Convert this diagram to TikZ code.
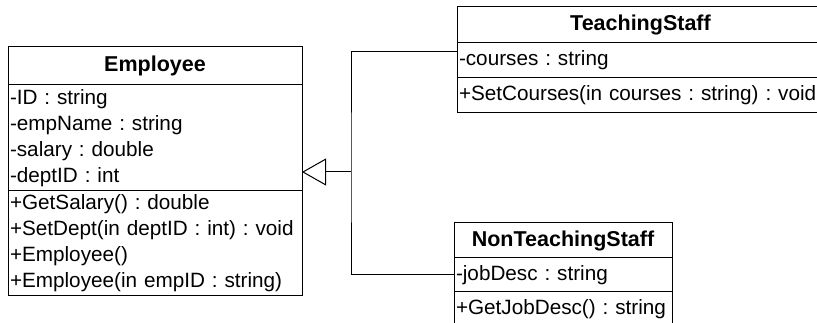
\documentclass[tikz,border=0pt]{standalone}
\usepackage{fontspec}
\setmainfont{Liberation Sans}
\usetikzlibrary{positioning,arrows.meta}

\begin{document}
\frenchspacing
\begin{tikzpicture}[x=1pt, y=1pt, line width=1pt,
	classbox/.style={draw, outer sep=0pt, inner xsep=2pt, inner ysep=0pt,
		text width=#1, align=left, font=\fontsize{20.7}{26}\selectfont\frenchspacing},
	classhead/.style={classbox=#1, align=center,
		font=\fontsize{21.5}{26}\selectfont\bfseries}]
	\path[use as bounding box, clip] (0,0) rectangle (817,-323);

	\node[classhead=290pt, minimum height=38pt, anchor=north west] (emp) at (8,-47) {Employee};
	\node[classbox=290pt, minimum height=106pt, below=0pt of emp] (emp-attr)
	{-ID : string\\-empName : string\\-salary : double\\-deptID : int};
	\node[classbox=290pt, minimum height=105pt, below=0pt of emp-attr] (emp-ops)
	{+GetSalary() : double\\+SetDept(in deptID : int) : void\\+Employee()\\+Employee(in empID : string)};

	\node[classhead=363pt, minimum height=36pt, anchor=north west] (ts) at (457,-7) {TeachingStaff};
	\node[classbox=363pt, minimum height=35pt, below=0pt of ts] (ts-attr) {-courses : string};
	\node[classbox=363pt, minimum height=35pt, below=0pt of ts-attr] (ts-ops)
	{+SetCourses(in courses : string) : void};

	\node[classhead=214pt, minimum height=35pt, anchor=north west] (nts) at (454,-223) {NonTeachingStaff};
	\node[classbox=214pt, minimum height=34pt, below=0pt of nts] (nts-attr) {-jobDesc : string};
	\node[classbox=214pt, minimum height=34pt, below=0pt of nts-attr] (nts-ops)
	{+GetJobDesc() : string};

	\coordinate (hub) at (351,-172);
	\draw ([yshift=9pt]ts-attr.west) -| (hub) |- (nts-attr.west);
	\draw[-{Triangle[open, length=24pt, width=27pt]}] (hub) -- (hub -| emp-attr.east);
\end{tikzpicture}
\end{document}
